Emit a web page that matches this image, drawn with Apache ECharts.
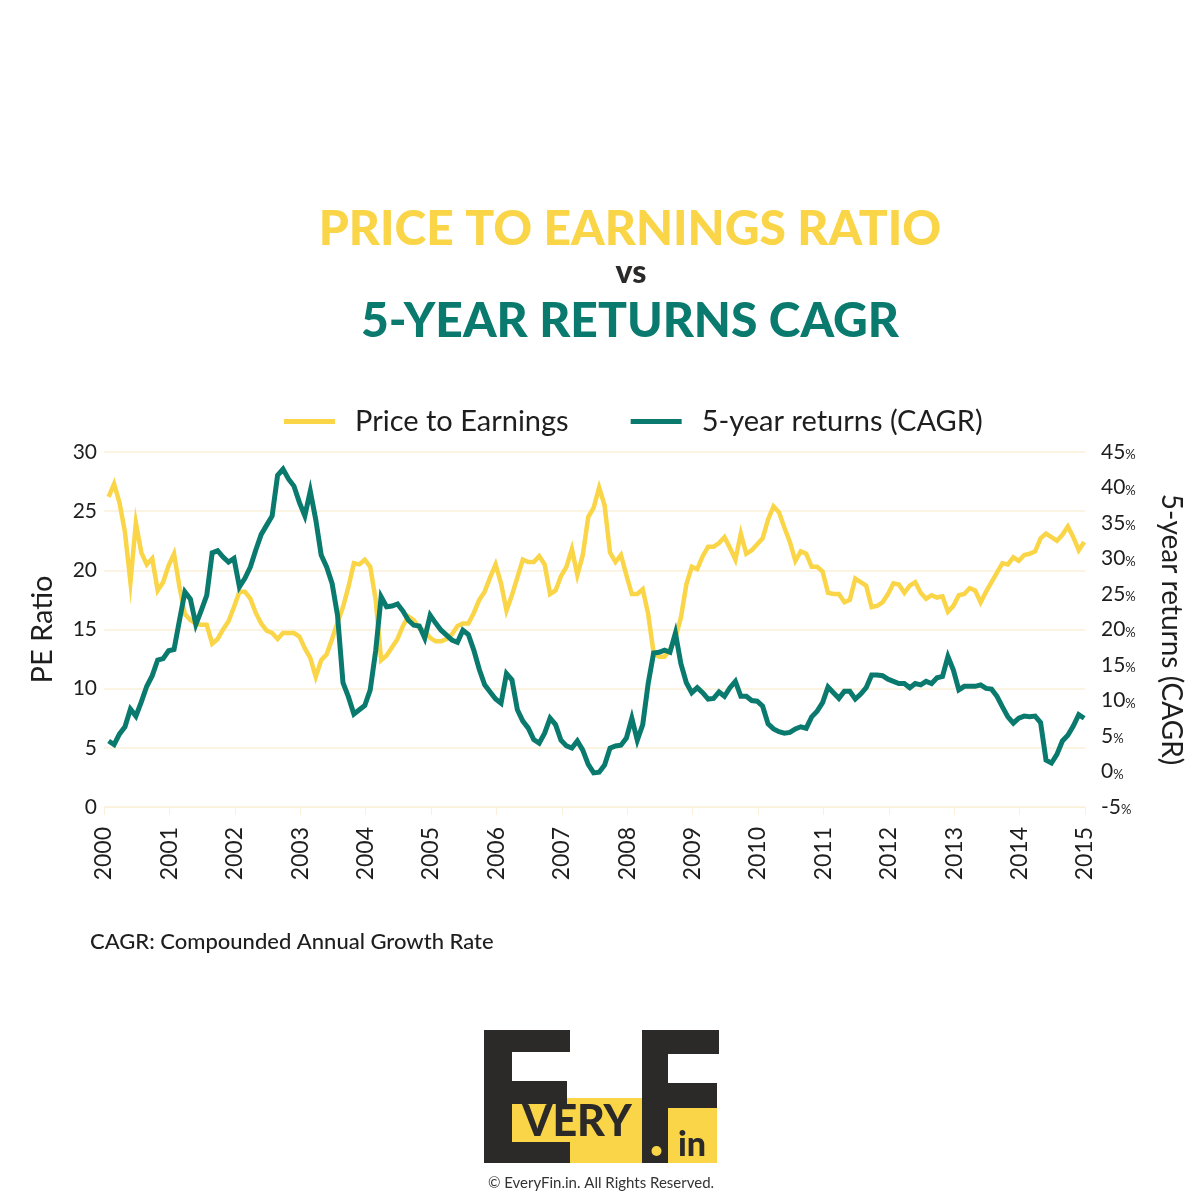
<!DOCTYPE html>
<html>
<head>
<meta charset="utf-8">
<script src="https://cdn.jsdelivr.net/npm/echarts@6/dist/echarts.min.js"></script>
<style>
html,body{margin:0;padding:0;background:#ffffff;}
#chart{width:1200px;height:1200px;}
</style>
</head>
<body>
<div id="chart"></div>
<script>
// ---- data (monthly, Jan 2000 .. Dec 2014) ----
const startYear = 2000;
const xTickYears = [2000,2001,2002,2003,2004,2005,2006,2007,2008,2009,2010,2011,2012,2013,2014,2015];
const peRatio = [
 26.2, 27.3, 25.7, 23.2, 19.0, 24.0, 21.5, 20.5, 21.0, 18.3, 19.0, 20.4,
 21.4, 18.6, 16.3, 15.8, 15.5, 15.4, 15.4, 13.8, 14.2, 15.0, 15.7, 16.9,
 18.2, 18.2, 17.6, 16.4, 15.5, 14.9, 14.7, 14.2, 14.7, 14.7, 14.7, 14.4,
 13.4, 12.6, 11.0, 12.4, 12.9, 14.2, 15.6, 16.9, 18.6, 20.6, 20.5, 20.9,
 20.3, 17.5, 12.4, 12.8, 13.5, 14.2, 15.3, 16.1, 15.8, 15.1, 14.9, 14.3,
 14.0, 14.0, 14.2, 14.6, 15.3, 15.5, 15.5, 16.4, 17.5, 18.2, 19.4, 20.5,
 18.9, 16.6, 17.9, 19.4, 20.9, 20.7, 20.7, 21.2, 20.5, 18.0, 18.3, 19.5,
 20.3, 21.8, 19.6, 21.3, 24.5, 25.3, 27.0, 25.5, 21.5, 20.7, 21.3, 19.6,
 18.0, 18.0, 18.4, 16.3, 13.0, 12.7, 12.7, 13.3, 14.3, 16.0, 18.8, 20.3,
 20.1, 21.2, 22.0, 22.0, 22.3, 22.8, 21.9, 20.9, 23.1, 21.4, 21.7, 22.2,
 22.7, 24.3, 25.4, 24.9, 23.6, 22.4, 20.8, 21.6, 21.4, 20.3, 20.3, 19.9,
 18.1, 18.0, 18.0, 17.3, 17.5, 19.3, 19.0, 18.7, 16.9, 17.0, 17.3, 18.0,
 18.9, 18.8, 18.1, 18.7, 19.0, 18.1, 17.6, 17.9, 17.7, 17.8, 16.5, 17.0,
 17.9, 18.0, 18.5, 18.3, 17.3, 18.2, 19.0, 19.8, 20.6, 20.5, 21.1, 20.8,
 21.3, 21.4, 21.6, 22.7, 23.1, 22.8, 22.5, 23.0, 23.7, 22.8, 21.7, 22.4
];
const cagr5y = [
  4.3,  3.8,  5.3,  6.3,  8.8,  7.8,  9.8, 12.0, 13.5, 15.7, 15.9, 17.0,
 17.2, 21.3, 25.3, 24.3, 20.7, 22.7, 24.8, 30.8, 31.1, 30.2, 29.5, 30.0,
 26.0, 27.2, 28.8, 31.2, 33.4, 34.7, 36.0, 41.7, 42.6, 41.2, 40.2, 37.9,
 36.0, 39.5, 35.5, 30.5, 28.8, 26.5, 22.0, 12.5, 10.5,  8.1,  8.7,  9.3,
 11.5, 17.0, 24.6, 23.2, 23.3, 23.6, 22.6, 21.3, 20.6, 20.5, 18.8, 22.0,
 20.9, 19.9, 19.2, 18.5, 18.2, 19.9, 19.3, 17.1, 14.4, 12.2, 11.2, 10.2,
  9.6, 13.8, 12.9,  8.7,  7.1,  6.1,  4.5,  4.0,  5.4,  7.5,  6.6,  4.4,
  3.6,  3.3,  4.3,  3.0,  1.0, -0.2, -0.1,  0.9,  3.3,  3.6,  3.7,  4.7,
  7.5,  4.4,  6.6, 12.4, 16.7, 16.8, 17.1, 16.8, 19.5, 15.2, 12.5, 11.1,
 11.8, 11.1, 10.2, 10.3, 11.2, 10.6, 11.8, 12.7, 10.6, 10.6, 10.0,  9.9,
  9.2,  6.7,  6.0,  5.6,  5.4,  5.5,  6.0,  6.3,  6.1,  7.7,  8.5,  9.7,
 11.9, 11.1, 10.3, 11.3, 11.3, 10.2, 10.9, 11.8, 13.6, 13.6, 13.5, 13.0,
 12.7, 12.4, 12.4, 11.8, 12.4, 12.2, 12.7, 12.4, 13.2, 13.4, 16.2, 14.3,
 11.5, 12.0, 12.0, 12.0, 12.2, 11.7, 11.6, 10.6,  9.1,  7.7,  6.8,  7.5,
  7.8,  7.7,  7.8,  6.9,  1.6,  1.2,  2.4,  4.3,  5.1,  6.4,  8.0,  7.5
];
const peTicks = [0,5,10,15,20,25,30];
const cagrTicks = [-5,0,5,10,15,20,25,30,35,40,45];

// month-end sampling positions (decimal years)
const monthTime = i => startYear + (i + 0.85) / 12;
const peData = peRatio.map((v, i) => [monthTime(i), v]);
const cagrData = cagr5y.map((v, i) => [monthTime(i), v]);

const YELLOW = '#F9D547';
const TEAL = '#0A7A6E';
const DARK = '#2B2A29';
const GRIDC = '#FBF1D9';
const FONT = 'Lato';

const chart = echarts.init(document.getElementById('chart'), null, {renderer: 'canvas'});
chart.setOption({
  backgroundColor: '#ffffff',
  animation: false,
  textStyle: {fontFamily: FONT},
  legend: {
    left: 279, top: 402,
    itemWidth: 51, itemHeight: 5, itemGap: 62,
    icon: 'rect',
    textStyle: {fontSize: 29, color: '#1e1e1e', fontFamily: FONT, padding: [0, 0, 0, 15]},
    data: ['Price to Earnings', '5-year returns (CAGR)']
  },
  grid: {left: 104, right: 115, top: 452, bottom: 393, containLabel: false},
  xAxis: {
    type: 'value', min: xTickYears[0], max: xTickYears[xTickYears.length - 1], interval: 1,
    axisLine: {show: true, lineStyle: {color: GRIDC, width: 1}},
    axisTick: {show: true, length: 8, lineStyle: {color: GRIDC}},
    splitLine: {show: false},
    axisLabel: {rotate: 90, fontSize: 23, color: '#1e1e1e', margin: 20, fontFamily: FONT,
      formatter: v => String(v)}
  },
  yAxis: [{
    type: 'value', min: peTicks[0], max: peTicks[peTicks.length - 1], interval: 5,
    name: 'PE Ratio', nameLocation: 'middle', nameGap: 47,
    nameTextStyle: {fontSize: 29, color: '#1e1e1e', fontFamily: FONT},
    axisLine: {show: false}, axisTick: {show: false},
    splitLine: {show: true, lineStyle: {color: GRIDC, width: 1.5}},
    axisLabel: {fontSize: 21, color: '#1e1e1e', margin: 7, fontFamily: FONT}
  }, {
    type: 'value', min: cagrTicks[0], max: cagrTicks[cagrTicks.length - 1], interval: 5,
    position: 'right',
    name: '5-year returns (CAGR)', nameLocation: 'middle', nameGap: 72, nameRotate: -90,
    nameTextStyle: {fontSize: 28, color: '#1e1e1e', fontFamily: FONT},
    axisLine: {show: false}, axisTick: {show: false}, splitLine: {show: false},
    axisLabel: {margin: 16, fontFamily: FONT,
      formatter: v => '{n|' + v + '}{p|%}',
      rich: {n: {fontSize: 21, color: '#1e1e1e', fontFamily: FONT},
             p: {fontSize: 13, color: '#1e1e1e', fontFamily: FONT, padding: [6, 0, 0, 0]}}}
  }],
  series: [{
    name: 'Price to Earnings', type: 'line', yAxisIndex: 0, data: peData,
    showSymbol: false, symbol: 'none', color: YELLOW,
    lineStyle: {color: YELLOW, width: 4.5, join: 'miter'}, z: 2
  }, {
    name: '5-year returns (CAGR)', type: 'line', yAxisIndex: 1, data: cagrData,
    showSymbol: false, symbol: 'none', color: TEAL,
    lineStyle: {color: TEAL, width: 5, join: 'miter'}, z: 3
  }],
  graphic: [
    {type: 'text', x: 630, y: 206, style: {text: 'PRICE TO EARNINGS RATIO', fill: YELLOW,
      font: '900 48px Lato', textAlign: 'center'}},
    {type: 'text', x: 631, y: 257, style: {text: 'vs', fill: DARK, font: '900 32px Lato', textAlign: 'center'}},
    {type: 'text', x: 630, y: 298, style: {text: '5-YEAR RETURNS CAGR', fill: TEAL,
      font: '900 48px Lato', textAlign: 'center'}},
    {type: 'text', x: 90, y: 931, style: {text: 'CAGR: Compounded Annual Growth Rate', fill: '#1e1e1e',
      font: '500 22px Lato'}},
    // logo
    {type: 'rect', shape: {x: 512, y: 1098, width: 205, height: 65}, style: {fill: YELLOW}},
    {type: 'rect', shape: {x: 484, y: 1030, width: 28, height: 133}, style: {fill: DARK}},
    {type: 'rect', shape: {x: 484, y: 1030, width: 86, height: 22}, style: {fill: DARK}},
    {type: 'rect', shape: {x: 512, y: 1081, width: 55, height: 17}, style: {fill: DARK}},
    {type: 'rect', shape: {x: 512, y: 1098, width: 55, height: 6}, style: {fill: DARK}},
    {type: 'rect', shape: {x: 512, y: 1142, width: 58, height: 21}, style: {fill: DARK}},
    {type: 'rect', shape: {x: 642, y: 1030, width: 26, height: 133}, style: {fill: DARK}},
    {type: 'rect', shape: {x: 642, y: 1030, width: 77, height: 24}, style: {fill: DARK}},
    {type: 'rect', shape: {x: 668, y: 1083, width: 49, height: 25}, style: {fill: DARK}},
    {type: 'circle', shape: {cx: 656.5, cy: 1151, r: 5}, style: {fill: YELLOW}},
    {type: 'text', x: 577, y: 1122, style: {text: 'VERY', fill: DARK, font: '900 43px Lato',
      textAlign: 'center', textVerticalAlign: 'middle'}},
    {type: 'text', x: 692, y: 1145, style: {text: 'in', fill: DARK, font: '900 34px Lato',
      textAlign: 'center', textVerticalAlign: 'middle'}},
    {type: 'text', x: 601, y: 1183, style: {text: '\u00A9 EveryFin.in. All Rights Reserved.', fill: '#333333',
      font: '15px Lato', textAlign: 'center', textVerticalAlign: 'middle'}}
  ]
});
</script>
</body>
</html>
